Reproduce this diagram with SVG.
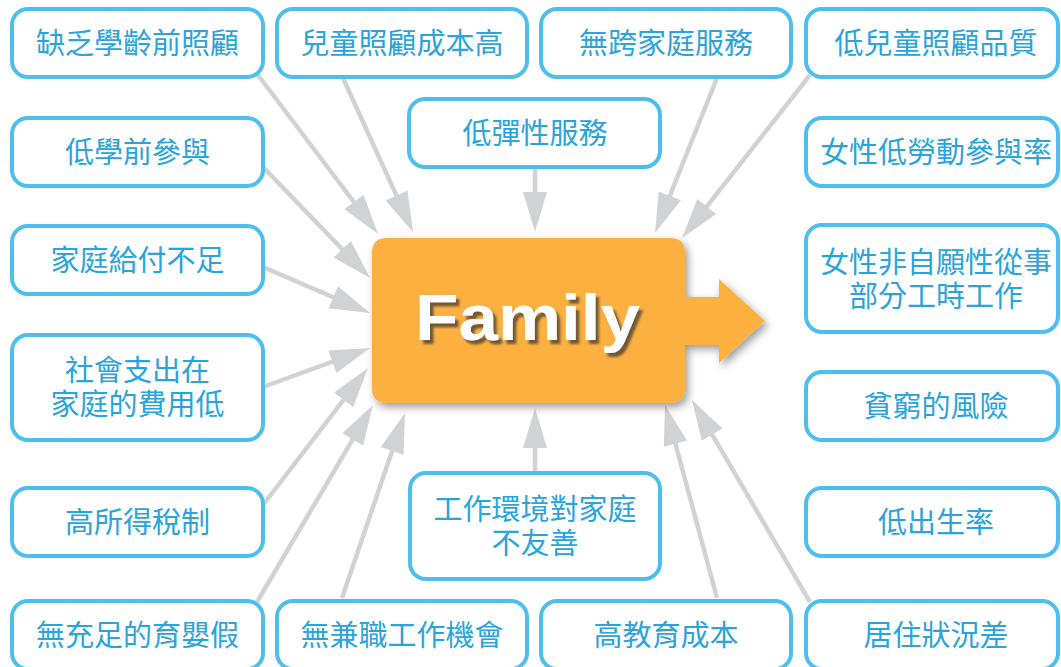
<svg xmlns="http://www.w3.org/2000/svg" width="1061" height="667" viewBox="0 0 1061 667">
<style>
.box{fill:#ffffff;stroke:#4dbfee;stroke-width:4}
.lbl{font-family:"Liberation Sans","Noto Sans CJK TC","Noto Sans CJK SC",sans-serif;font-size:29px;fill:#29a4dc;text-anchor:middle}
.con{stroke:#d1d2d4;stroke-width:4.5;fill:none;marker-end:url(#ah)}
.fam{font-family:"Liberation Sans",Arial,sans-serif;font-weight:bold;font-size:65px;text-anchor:middle}
</style>
<defs>
<marker id="ah" markerUnits="userSpaceOnUse" markerWidth="42" markerHeight="26" refX="30" refY="12" orient="auto" overflow="visible">
<path d="M0,0 L40,12 L0,24 z" fill="#d1d2d4"/>
</marker>
<filter id="sh" x="-10%" y="-10%" width="125%" height="130%">
<feDropShadow dx="3" dy="4" stdDeviation="4" flood-color="#000" flood-opacity="0.4"/>
</filter>
<filter id="tsh" x="-10%" y="-20%" width="125%" height="150%">
<feDropShadow dx="3.5" dy="4" stdDeviation="1.3" flood-color="#5a4630" flood-opacity="0.85"/>
</filter>
</defs>
<rect width="1061" height="667" fill="#ffffff"/>
<g id="connectors">
<line class="con" x1="258" y1="75" x2="372" y2="226"/>
<line class="con" x1="343" y1="78" x2="408.9" y2="222.9"/>
<line class="con" x1="263" y1="167" x2="363.1" y2="270.8"/>
<line class="con" x1="263" y1="267" x2="360.8" y2="309.1"/>
<line class="con" x1="263" y1="387" x2="360.6" y2="351.4"/>
<line class="con" x1="263" y1="505" x2="361.9" y2="375.9"/>
<line class="con" x1="257" y1="602" x2="367.9" y2="413.6"/>
<line class="con" x1="342" y1="598" x2="401.8" y2="422.5"/>
<line class="con" x1="535" y1="473" x2="535" y2="418"/>
<line class="con" x1="717" y1="598" x2="667.6" y2="414.7"/>
<line class="con" x1="810" y1="602" x2="697" y2="408.6"/>
<line class="con" x1="717" y1="78" x2="658.7" y2="223.7"/>
<line class="con" x1="810" y1="75" x2="688.2" y2="230.1"/>
<line class="con" x1="535" y1="167" x2="535" y2="222"/>
</g>
<g id="n1"><rect class="box" x="12" y="9" width="251" height="68" rx="16"/><text class="lbl" x="137.5" y="53.5">缺乏學齡前照顧</text></g>
<g id="n2"><rect class="box" x="277" y="9" width="250" height="68" rx="16"/><text class="lbl" x="402" y="53.5">兒童照顧成本高</text></g>
<g id="n3"><rect class="box" x="541" y="9" width="250" height="68" rx="16"/><text class="lbl" x="666" y="53.5">無跨家庭服務</text></g>
<g id="n4"><rect class="box" x="806" y="9" width="252" height="68" rx="16"/><text class="lbl" x="936" y="53.5">低兒童照顧品質</text></g>
<g id="n5"><rect class="box" x="12" y="118" width="251" height="68" rx="16"/><text class="lbl" x="137.5" y="163">低學前參與</text></g>
<g id="n6"><rect class="box" x="409" y="99" width="251" height="68" rx="16"/><text class="lbl" x="535" y="144">低彈性服務</text></g>
<g id="n7"><rect class="box" x="806" y="118" width="252" height="68" rx="16"/><text class="lbl" x="936" y="163">女性低勞動參與率</text></g>
<g id="n8"><rect class="box" x="12" y="226" width="251" height="68" rx="16"/><text class="lbl" x="137.5" y="271">家庭給付不足</text></g>
<g id="n9"><rect class="box" x="806" y="225" width="252" height="107" rx="16"/><text class="lbl" x="936" y="273">女性非自願性從事<tspan x="936" dy="34">部分工時工作</tspan></text></g>
<g id="n10"><rect class="box" x="12" y="335" width="251" height="105" rx="16"/><text class="lbl" x="137.5" y="381">社會支出在<tspan x="137.5" dy="34">家庭的費用低</tspan></text></g>
<g id="n11"><rect class="box" x="806" y="372" width="252" height="68" rx="16"/><text class="lbl" x="936" y="417">貧窮的風險</text></g>
<g id="n12"><rect class="box" x="410" y="473" width="250" height="106" rx="16"/><text class="lbl" x="535" y="520">工作環境對家庭<tspan x="535" dy="34">不友善</tspan></text></g>
<g id="n13"><rect class="box" x="12" y="488" width="251" height="68" rx="16"/><text class="lbl" x="137.5" y="533">高所得稅制</text></g>
<g id="n14"><rect class="box" x="806" y="488" width="252" height="68" rx="16"/><text class="lbl" x="936" y="533">低出生率</text></g>
<g id="n15"><rect class="box" x="12" y="601" width="251" height="68" rx="16"/><text class="lbl" x="137.5" y="646">無充足的育嬰假</text></g>
<g id="n16"><rect class="box" x="277" y="601" width="250" height="68" rx="16"/><text class="lbl" x="402" y="646">無兼職工作機會</text></g>
<g id="n17"><rect class="box" x="541" y="601" width="250" height="68" rx="16"/><text class="lbl" x="666" y="646">高教育成本</text></g>
<g id="n18"><rect class="box" x="806" y="601" width="252" height="68" rx="16"/><text class="lbl" x="936" y="646">居住狀況差</text></g>
<g id="family">
<g filter="url(#sh)" fill="#fbb040">
<path d="M387,238 H670 Q685,238 685,253 V297 H719 V279 L765,321 L719,363 V345 H685 V388 Q685,403 670,403 H387 Q372,403 372,388 V253 Q372,238 387,238 Z"/>
</g>
<text class="fam" x="527.5" y="339.5" fill="#ffffff" filter="url(#tsh)" textLength="225" lengthAdjust="spacingAndGlyphs">Family</text>
</g>
</svg>
